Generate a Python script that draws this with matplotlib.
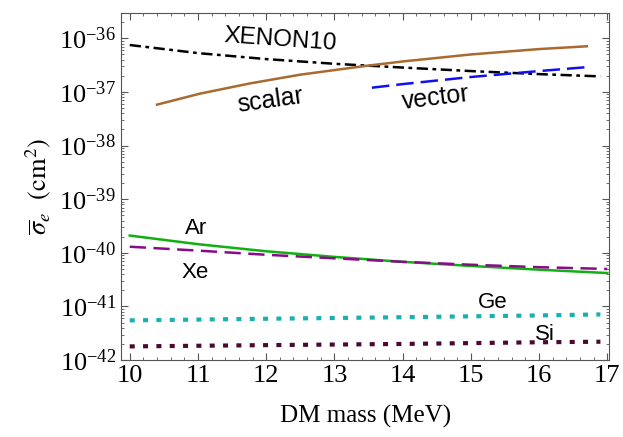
import numpy as np
import matplotlib.pyplot as plt
from matplotlib.ticker import FixedLocator, MultipleLocator, NullFormatter, LogFormatterSciNotation

plt.rcParams['mathtext.fontset'] = 'stix'
plt.rcParams['font.family'] = 'Liberation Serif'

# curves (x in MeV, y in cm^2)
xenon_x = [10, 11, 12, 13, 14, 15, 16, 16.9]
xenon_y = [7.5e-37, 5.3e-37, 4.1e-37, 3.35e-37, 2.85e-37, 2.45e-37, 2.15e-37, 1.95e-37]

scalar_x = [10.4, 11.03, 11.76, 12.5, 13.45, 14, 15, 16, 16.7]
scalar_y = [5.8e-38, 9.3e-38, 1.44e-37, 2.1e-37, 3.05e-37, 3.7e-37, 5.0e-37, 6.3e-37, 7.1e-37]

vector_x = [13.55, 14, 15, 16, 16.7]
vector_y = [1.2e-37, 1.4e-37, 1.9e-37, 2.45e-37, 2.9e-37]

ar_x = [10, 11, 12, 13, 14, 15, 16, 17]
ar_y = [2.1e-40, 1.45e-40, 1.07e-40, 8.4e-41, 6.8e-41, 5.7e-41, 4.85e-41, 4.2e-41]

xe_x = [10, 11, 12, 13, 14, 15, 16, 17]
xe_y = [1.3e-40, 1.1e-40, 9.2e-41, 7.9e-41, 6.8e-41, 6.0e-41, 5.4e-41, 5.0e-41]

ge_x = [10, 12, 14, 16, 16.9]
ge_y = [5.5e-42, 5.9e-42, 6.3e-42, 6.8e-42, 7.1e-42]

si_x = [10, 12, 14, 16, 16.9]
si_y = [1.8e-42, 1.9e-42, 2.0e-42, 2.15e-42, 2.2e-42]

y_ticks = [1e-42, 1e-41, 1e-40, 1e-39, 1e-38, 1e-37, 1e-36]
y_minor = [m * t for t in y_ticks for m in range(2, 10)]

W, H = 623, 437
fig = plt.figure(figsize=(W / 100, H / 100), dpi=100)
ax = fig.add_axes([0.194, 0.176, 0.784, 0.794])

ax.plot(xenon_x, xenon_y, color='black', lw=1.8, dashes=(4.5, 1.8, 1.5, 1.8))
ax.plot(scalar_x, scalar_y, color='#a86a2e', lw=1.8)
ax.plot(vector_x, vector_y, color='#1010f0', lw=1.8, dashes=(7, 2.8))
ax.plot(ar_x, ar_y, color='#10b010', lw=1.8)
ax.plot(xe_x, xe_y, color='#8a0a8a', lw=1.8, dashes=(6.5, 3))
ax.plot(ge_x, ge_y, color='#18b0b0', lw=3, dashes=(1.2, 2.0))
ax.plot(si_x, si_y, color='#4a0a30', lw=3, dashes=(1.2, 2.0))

ax.set_yscale('log')
ax.set_xlim(9.87, 17.03)
ax.set_ylim(1e-42, 10**-35.53)

ax.xaxis.set_major_locator(MultipleLocator(1))
ax.xaxis.set_minor_locator(MultipleLocator(0.2))
ax.yaxis.set_major_locator(FixedLocator(y_ticks))
ax.yaxis.set_major_formatter(LogFormatterSciNotation())
ax.yaxis.set_minor_locator(FixedLocator(y_minor))
ax.yaxis.set_minor_formatter(NullFormatter())

ax.tick_params(which='both', direction='in', top=True, right=True, color='#555555', labelsize=19)
ax.tick_params(which='major', length=5, width=0.8)
ax.tick_params(which='minor', length=2.5, width=0.6)
for s in ax.spines.values():
    s.set_color('#555555')

ax.set_xlabel('DM mass (MeV)', fontsize=18, labelpad=13)
ax.set_ylabel(r'$\overline{\sigma}_e\ \ (\mathrm{cm}^2)$', fontsize=19)


def label(px, py, s, size, rot=0):
    # place text at reference pixel position (origin top-left)
    fig.text(px / W, 1 - py / H, s, fontsize=size, family='Liberation Sans',
             rotation=rot, ha='center', va='center')


label(280, 40, 'XENON10', 17.5, -4)
label(270, 100, 'scalar', 18, 8)
label(436, 98, 'vector', 18, 7)
label(196, 229, 'Ar', 16)
label(195, 273, 'Xe', 16)
label(493, 302, 'Ge', 16)
label(545, 335, 'Si', 16)

fig.savefig('out.png', dpi=100)
